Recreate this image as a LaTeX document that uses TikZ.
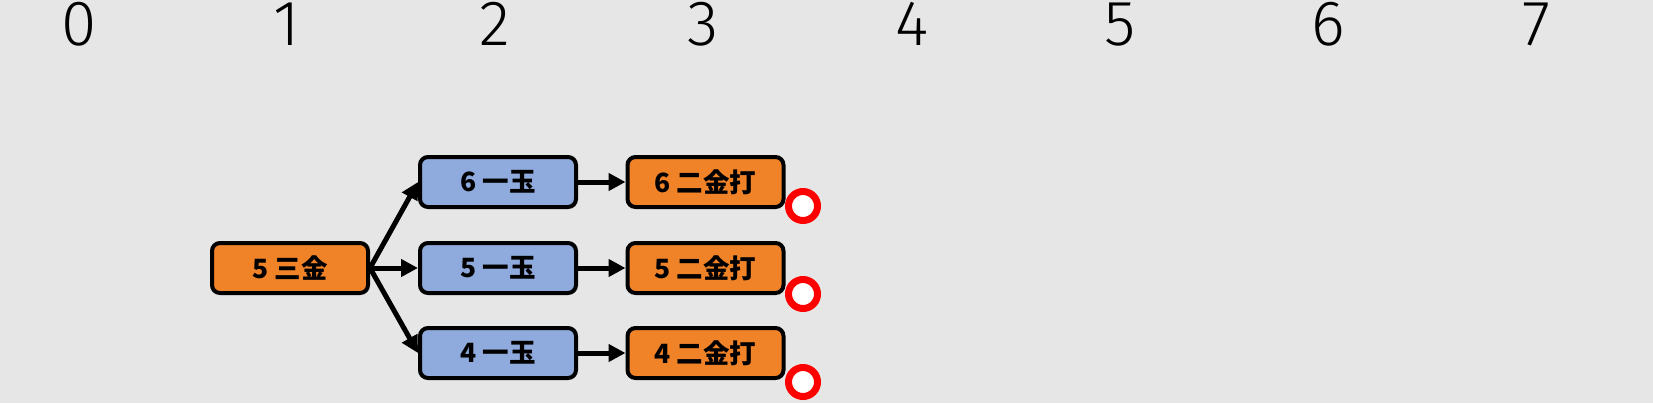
\documentclass[tikz,border=0pt]{standalone}
\usepackage{fontspec}
\setmainfont{Liberation Sans}
\newfontfamily\digitfont{Fira Sans}[UprightFont=* Light]
\newfontfamily\cjk{Noto Sans CJK JP}
\usetikzlibrary{arrows.meta}
\definecolor{bggray}{HTML}{E6E6E6}
\definecolor{boxorange}{HTML}{F08228}
\definecolor{boxblue}{HTML}{8FAADC}
\tikzset{
  movebox/.style={draw=black, line width=4bp, rounded corners=8bp,
    minimum width=156bp, minimum height=50bp, inner sep=0pt,
    font=\cjk\bfseries\fontsize{26.5bp}{29bp}\selectfont, text=black},
  orangebox/.style={movebox, fill=boxorange},
  bluebox/.style={movebox, fill=boxblue},
  conn/.style={line width=5bp, -{Triangle[length=17bp,width=17bp]}},
  digit/.style={anchor=base, inner sep=0pt, font=\digitfont\fontsize{64bp}{66bp}\selectfont, text=black},
  ring/.style={draw=red, line width=7bp, fill=white, circle, minimum size=29bp, inner sep=0pt}
}
\begin{document}
\begin{tikzpicture}[x=1bp,y=-1bp]
\fill[bggray] (0,0) rectangle (1653,403);
\useasboundingbox (0,0) rectangle (1653,403);
\foreach \i in {0,...,7} {
  \node[digit] (d\i) at ({78.6+208.3*\i},45) {\i};
}
\node[orangebox] (a) at (290,268) {5 三金};
\node[bluebox] (b6) at (498,182) {6 一玉};
\node[bluebox] (b5) at (498,268) {5 一玉};
\node[bluebox] (b4) at (498,353) {4 一玉};
\node[orangebox] (c6) at (705.5,182) {6 二金打};
\node[orangebox] (c5) at (705.5,268) {5 二金打};
\node[orangebox] (c4) at (705.5,353) {4 二金打};
\draw[conn] (a.east) -- (b6.west);
\draw[conn] (a.east) -- (b5.west);
\draw[conn] (a.east) -- (b4.west);
\draw[conn] (b6.east) -- (c6.west);
\draw[conn] (b5.east) -- (c5.west);
\draw[conn] (b4.east) -- (c4.west);
\node[ring] (r6) at (803,206) {};
\node[ring] (r5) at (803,294) {};
\node[ring] (r4) at (803,382) {};
\end{tikzpicture}
\end{document}
